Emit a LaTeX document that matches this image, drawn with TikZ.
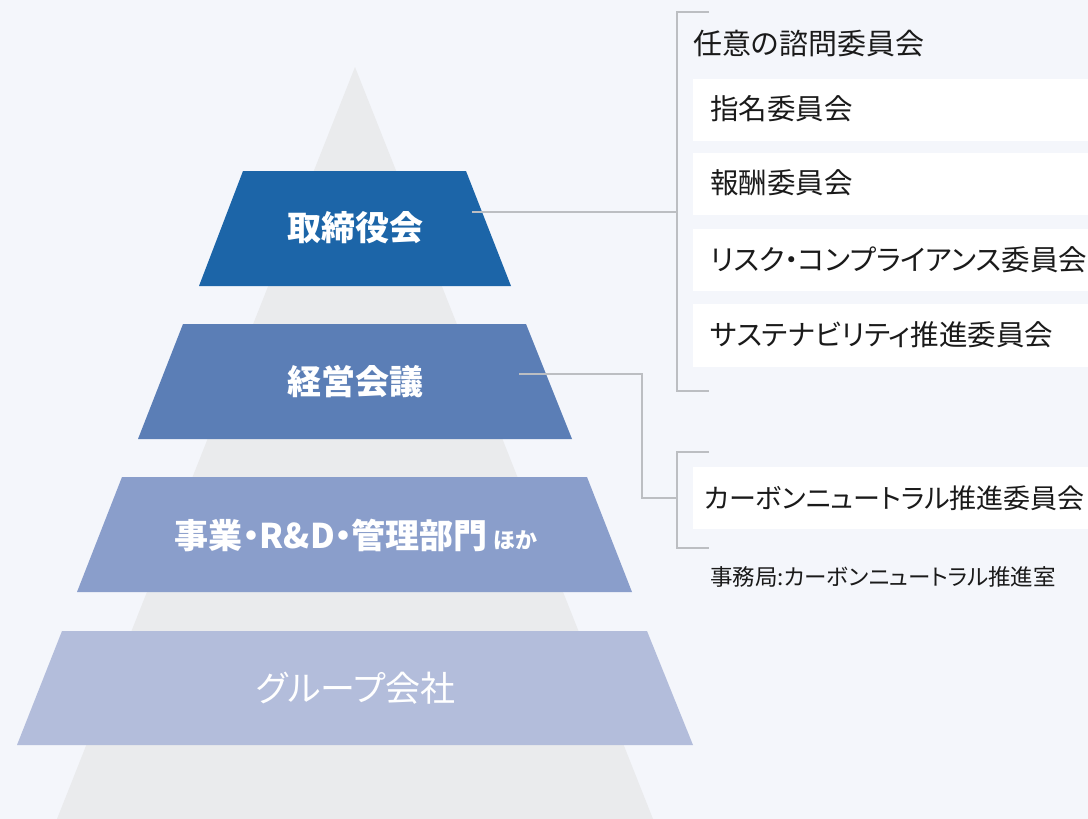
\documentclass[tikz,border=0pt]{standalone}
\usepackage{fontspec}
\setmainfont{Noto Sans CJK JP}[RawFeature=+palt]
\definecolor{bgc}{HTML}{F4F6FB}
\definecolor{tric}{HTML}{EAEBED}
\definecolor{lvA}{HTML}{1C65A8}
\definecolor{lvB}{HTML}{5B7EB6}
\definecolor{lvC}{HTML}{8A9ECB}
\definecolor{lvD}{HTML}{B3BDDB}
\definecolor{linec}{HTML}{BCBEC2}
\definecolor{txtc}{HTML}{1A1A1A}
\tikzset{
  lvtext/.style={text=white,font=\fontsize{34}{38}\selectfont\bfseries,inner sep=0pt},
  boxtext/.style={text=txtc,font=\fontsize{28.5}{32}\selectfont,anchor=west,inner sep=0pt},
  wbox/.style={fill=white,draw=none},
  conn/.style={draw=linec,line width=1.5pt},
}
\begin{document}
\begin{tikzpicture}[x=1pt,y=-1pt]
\fill[bgc] (0,0) rectangle (1088,819);
\useasboundingbox (0,0) rectangle (1088,819);
% pyramid
\fill[tric] (355,67) -- (57,819) -- (653,819) -- cycle;
% levels
\fill[lvA] (243,171) -- (466,171) -- (511,286) -- (199,286) -- cycle;
\fill[lvB] (183,324) -- (526,324) -- (572,439) -- (138,439) -- cycle;
\fill[lvC] (122,477) -- (587,477) -- (632,592) -- (77,592) -- cycle;
\fill[lvD] (62,631) -- (647,631) -- (693,745) -- (17,745) -- cycle;
\node[lvtext] (board) at (355,228) {取締役会};
\node[lvtext] (mgmt) at (355,382) {経営会議};
\node[lvtext] (biz) at (356,535) {事業・R\&D・管理部門\,{\fontsize{22}{26}\selectfont ほか}};
\node[lvtext,font=\fontsize{35}{38}\selectfont] (group) at (356,688) {グループ会社};
% white boxes
\fill[wbox] (693,79) rectangle (1088,141);
\fill[wbox] (693,153) rectangle (1088,215);
\fill[wbox] (693,229) rectangle (1088,291);
\fill[wbox] (693,304) rectangle (1088,367);
\fill[wbox] (693,467) rectangle (1088,529);
\node[boxtext,font=\fontsize{29}{32}\selectfont] (adv) at (693,44) {任意の諮問委員会};
\node[boxtext] (nom) at (710,109) {指名委員会};
\node[boxtext] (rem) at (710,183) {報酬委員会};
\node[boxtext] (risk) at (710,260) {リスク・コンプライアンス委員会};
\node[boxtext] (sus) at (710,335) {サステナビリティ推進委員会};
\node[boxtext,font=\fontsize{27}{30}\selectfont] (cn) at (704,498) {カーボンニュートラル推進委員会};
\node[boxtext,font=\fontsize{22.5}{26}\selectfont] (sec) at (710,577) {事務局:カーボンニュートラル推進室};
% brackets
\coordinate (b1top) at (709,12);
\coordinate (b1bot) at (709,391);
\coordinate (b1mid) at (677,212);
\draw[conn] (b1top) -- (677,12) -- (677,391) -- (b1bot);
\coordinate (b2top) at (709,452);
\coordinate (b2bot) at (709,548);
\coordinate (b2mid) at (677,498);
\draw[conn] (b2top) -- (677,452) -- (677,548) -- (b2bot);
% connectors
\coordinate (boardout) at (472,212);
\coordinate (mgmtout) at (519,374);
\draw[conn] (boardout) -- (b1mid);
\draw[conn] (mgmtout) -- (642,374) |- (b2mid);
\end{tikzpicture}
\end{document}
